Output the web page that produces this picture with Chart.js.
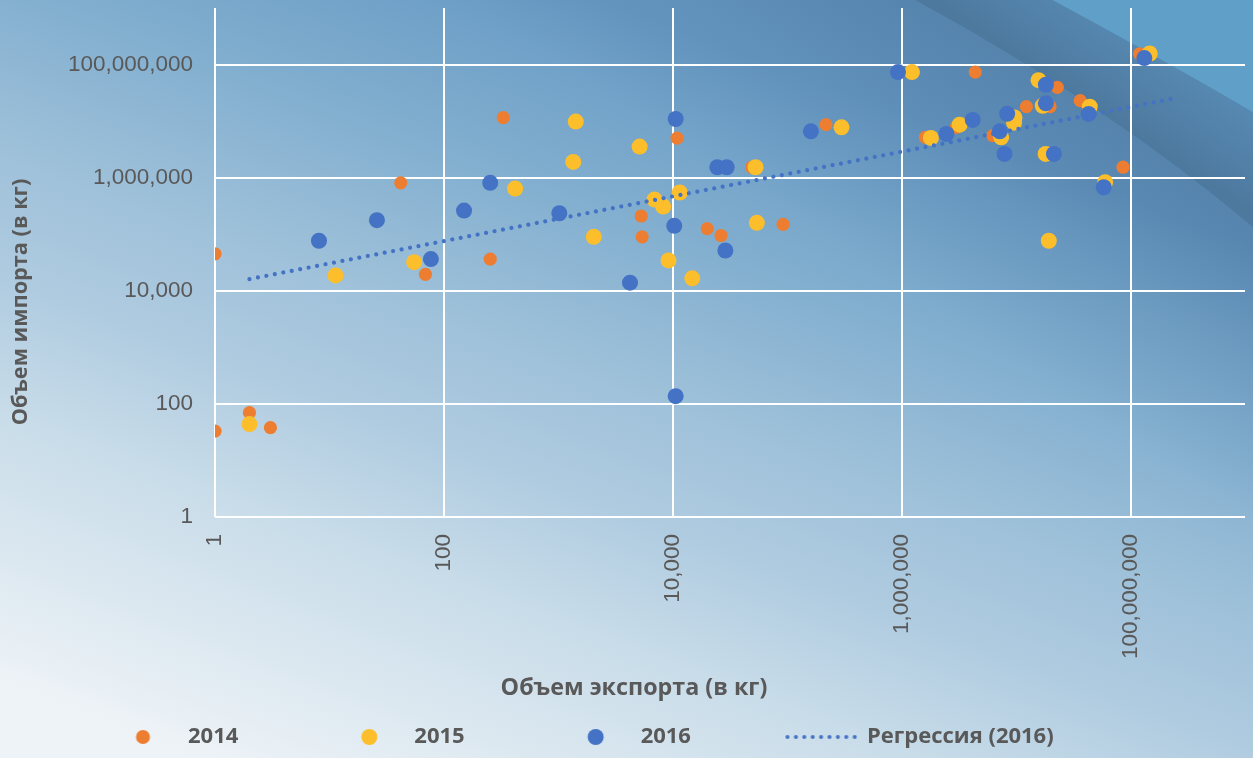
<!DOCTYPE html>
<html lang="ru">
<head>
<meta charset="utf-8">
<title>Объем экспорта и импорта</title>
<script src="https://cdn.jsdelivr.net/npm/chart.js@4.4.1/dist/chart.umd.min.js"></script>
<style>
    html, body { margin: 0; padding: 0; width: 1253px; height: 758px; overflow: hidden; background: #c9dbe8; }
    #tradeChart { display: block; }
</style>
</head>
<body>
<canvas id="tradeChart" width="1253" height="758"></canvas>
<script>
// ---------------------------------------------------------------------
// --- Data (kg): export on X, import on Y ---
// ---------------------------------------------------------------------

const seriesLabels = ['2014', '2015', '2016'];
const regressionLabel = 'Регрессия (2016)';
const xTitle = 'Объем экспорта (в кг)';
const yTitle = 'Объем импорта (в кг)';
const axisTicks = [1, 100, 10000, 1000000, 100000000];

const exp2014 = [1, 42, 330, 10900, 5300, 5400, 20000, 26400, 92000, 49000, 69, 254, 218000, 1610000, 3000000,
    4400000, 6270000, 12300000, 22900000, 19800000, 36300000, 86000000, 120000000, 1, 2, 3.05];
const imp2014 = [45000, 810000, 11500000, 5000000, 210000, 90000, 126000, 95000, 149000, 1530000, 19500, 36300, 8650000, 5170000, 7760000,
    73700000, 5530000, 18000000, 39400000, 18000000, 23000000, 1530000, 155000000, 33, 70, 38];

const exp2015 = [11.3, 55, 1420, 5130, 1350, 52900, 419, 6930, 8250, 11500, 2040, 54300, 9180, 14800, 298000,
    1230000, 15700000, 17100000, 44000000, 147000000, 1800000, 3210000, 9680000, 9600000, 7410000, 18100000, 60000000, 19300000, 2];
const imp2015 = [18700, 32100, 9800000, 3540000, 1900000, 1530000, 642000, 410000, 309000, 546000, 90000, 159000, 34400, 16600, 7760000,
    73700000, 53000000, 18700000, 18000000, 157000000, 5040000, 8650000, 11600000, 9400000, 5170000, 2630000, 830000, 76600, 44];

const exp2016 = [8.1, 26, 10600, 161000, 24500, 29600, 254, 150, 1020, 10300, 28800, 4230, 77, 929000,
    18200000, 18200000, 43000000, 132000000, 2460000, 4180000, 8350000, 7200000, 7920000, 21400000, 58300000, 10600];
const imp2016 = [76600, 177000, 10900000, 6600000, 1530000, 1530000, 809000, 262000, 235000, 141000, 51600, 13900, 36300, 73700000,
    44000000, 20600000, 13400000, 130000000, 5930000, 10500000, 13500000, 6600000, 2630000, 2630000, 677000, 137];

// trend line of 2016 (two ends, straight on log-log axes)
const regX = [2, 227000000];
const regY = [16100, 24600000];

const toPoints = (xs, ys) => xs.map((x, i) => ({ x: x, y: ys[i] }));

// ---------------------------------------------------------------------
// --- Plugins: slide background, axis titles ---
// ---------------------------------------------------------------------

const slideBackground = {
    id: 'slideBackground',
    beforeDraw(chart) {
        const { ctx, width: w, height: h } = chart;
        ctx.save();

        // base gradient: light lower-left -> blue top
        const base = ctx.createLinearGradient(300, h + 40, 600, 0);
        base.addColorStop(0, '#eef3f7');
        base.addColorStop(0.3, '#c8dce9');
        base.addColorStop(0.45, '#afcbe0');
        base.addColorStop(0.6, '#9dc0d9');
        base.addColorStop(0.78, '#81aecf');
        base.addColorStop(1, '#6699c3');
        ctx.fillStyle = base;
        ctx.fillRect(0, 0, w, h);

        // curve A (edge of the dark band) and curve B (edge of the light band)
        const A = [0.73 * w, 0, 0.885 * w, 0.14 * h, w, 0.30 * h];
        const B = [0.84 * w, 0, 0.935 * w, 0.085 * h, w, 0.148 * h];

        // soft shade below curve A
        const shade = ctx.createLinearGradient(1100, 110, 1100 - 0.55 * 260, 110 + 0.83 * 260);
        shade.addColorStop(0, 'rgba(45, 80, 120, 0.30)');
        shade.addColorStop(0.5, 'rgba(45, 80, 120, 0.11)');
        shade.addColorStop(1, 'rgba(45, 80, 120, 0)');
        ctx.beginPath();
        ctx.moveTo(A[0], A[1]);
        ctx.quadraticCurveTo(A[2], A[3], A[4], A[5]);
        ctx.lineTo(w, h);
        ctx.lineTo(0, h);
        ctx.lineTo(0, 0);
        ctx.closePath();
        ctx.fillStyle = shade;
        ctx.fill();

        // dark band
        const band = ctx.createLinearGradient(1100, 110, 1100 + 0.55 * 90, 110 - 0.83 * 90);
        band.addColorStop(0, '#4e799f');
        band.addColorStop(1, '#578ab3');
        ctx.beginPath();
        ctx.moveTo(A[0], A[1]);
        ctx.quadraticCurveTo(A[2], A[3], A[4], A[5]);
        ctx.lineTo(w, 0);
        ctx.closePath();
        ctx.fillStyle = band;
        ctx.fill();

        // light band in the corner
        ctx.beginPath();
        ctx.moveTo(B[0], B[1]);
        ctx.quadraticCurveTo(B[2], B[3], B[4], B[5]);
        ctx.lineTo(w, 0);
        ctx.closePath();
        ctx.fillStyle = '#5f9fc8';
        ctx.fill();

        ctx.restore();
    }
};

const axisTitles = {
    id: 'axisTitles',
    afterDraw(chart) {
        const { ctx } = chart;
        ctx.save();
        ctx.fillStyle = '#595959';
        ctx.textAlign = 'center';
        ctx.textBaseline = 'middle';
        ctx.font = 'bold 23.3px "Open Sans"';
        ctx.fillText(xTitle, 634, 688);
        ctx.translate(21, 302);
        ctx.rotate(-Math.PI / 2);
        ctx.font = 'bold 21.7px "Open Sans"';
        ctx.fillText(yTitle, 0, 0);
        ctx.restore();
    }
};

// ---------------------------------------------------------------------
// --- Legend marks (drawn to small canvases) ---
// ---------------------------------------------------------------------

const makeMark = (color, radius, dotted) => {
    const c = document.createElement('canvas');
    c.width = 170;
    c.height = 22;
    const g = c.getContext('2d');
    g.fillStyle = color;
    if (dotted) {
        for (let x = 94; x <= 168; x += 8.4) {
            g.beginPath();
            g.arc(x, 11, 2, 0, Math.PI * 2);
            g.fill();
        }
    } else {
        g.beginPath();
        g.arc(128.5, 11, radius, 0, Math.PI * 2);
        g.fill();
    }
    return c;
};

// ---------------------------------------------------------------------
// --- Chart ---
// ---------------------------------------------------------------------

const colors = ['#ED7D31', '#FDBE2B', '#4472C4'];
const radii = [6.6, 8, 8];

const datasets = [
    { label: seriesLabels[0], data: toPoints(exp2014, imp2014), order: 3 },
    { label: seriesLabels[1], data: toPoints(exp2015, imp2015), order: 2 },
    { label: seriesLabels[2], data: toPoints(exp2016, imp2016), order: 1 }
].map((ds, i) => Object.assign(ds, {
    backgroundColor: colors[i],
    borderWidth: 0,
    pointRadius: radii[i],
    pointHoverRadius: radii[i]
}));

datasets.push({
    label: regressionLabel,
    data: toPoints(regX, regY),
    showLine: true,
    order: 0,
    borderColor: '#4472C4',
    borderWidth: 4.2,
    borderDash: [0.01, 8.6],
    borderCapStyle: 'round',
    pointRadius: 0,
    pointHoverRadius: 0
});

const legendMarks = [
    makeMark(colors[0], 7, false),
    makeMark(colors[1], 8, false),
    makeMark(colors[2], 8, false),
    makeMark('#4472C4', 0, true)
];

const tickFont = { family: '"Liberation Sans", Arial, sans-serif', size: 22.5 };
const fmt = (v) => Number(v).toLocaleString('en-US');

// keep the plot area where the picture has it (no extra edge padding from labels)
const noEdgePadding = (scale) => {
    scale.paddingTop = 0;
    scale.paddingBottom = 0;
    scale.paddingLeft = 0;
    scale.paddingRight = 0;
};

new Chart(document.getElementById('tradeChart'), {
    type: 'scatter',
    data: { datasets: datasets },
    plugins: [slideBackground, axisTitles],
    options: {
        responsive: false,
        animation: false,
        events: [],
        layout: { padding: { top: 7, right: 0, left: 12, bottom: 0 } },
        plugins: {
            tooltip: { enabled: false },
            legend: {
                position: 'bottom',
                align: 'start',
                labels: {
                    usePointStyle: true,
                    pointStyleWidth: 155,
                    padding: 10,
                    color: '#595959',
                    font: { family: '"Open Sans", sans-serif', size: 22, weight: 'bold' },
                    generateLabels: (chart) => chart.data.datasets.map((ds, i) => ({
                        text: ds.label,
                        datasetIndex: i,
                        pointStyle: legendMarks[i],
                        fillStyle: 'rgba(0,0,0,0)',
                        strokeStyle: 'rgba(0,0,0,0)',
                        lineWidth: 0,
                        fontColor: '#595959',
                        hidden: false
                    }))
                }
            }
        },
        scales: {
            x: {
                type: 'logarithmic',
                min: 1,
                max: 1000000000,
                afterBuildTicks: (scale) => { scale.ticks = axisTicks.map(v => ({ value: v })); },
                afterFit: (scale) => { scale.height = 199; noEdgePadding(scale); },
                grid: { color: '#ffffff', lineWidth: 2, drawTicks: false },
                border: { display: false },
                ticks: {
                    autoSkip: false,
                    minRotation: 90,
                    maxRotation: 90,
                    padding: 17,
                    color: '#595959',
                    font: tickFont,
                    callback: fmt
                },
                title: { display: false, text: xTitle }
            },
            y: {
                type: 'logarithmic',
                min: 1,
                max: 1000000000,
                afterBuildTicks: (scale) => { scale.ticks = axisTicks.map(v => ({ value: v })); },
                afterFit: (scale) => { scale.width = 203; noEdgePadding(scale); },
                grid: { color: '#ffffff', lineWidth: 2, drawTicks: false },
                border: { display: false },
                ticks: {
                    autoSkip: false,
                    padding: 22,
                    color: '#595959',
                    font: tickFont,
                    callback: fmt
                },
                title: { display: false, text: yTitle }
            }
        }
    }
});
</script>
</body>
</html>
